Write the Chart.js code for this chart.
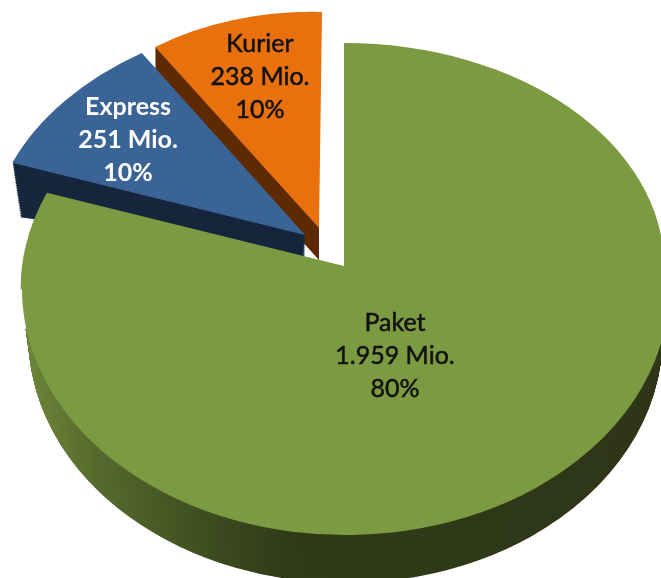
<!DOCTYPE html>
<html>
<head>
<meta charset="utf-8">
<title>Paket Express Kurier</title>
<script src="https://cdn.jsdelivr.net/npm/chart.js@4"></script>
<style>
  html, body { margin: 0; padding: 0; background: #fff; overflow: hidden; }
  canvas { display: block; }
</style>
</head>
<body>
<canvas id="pie" width="661" height="578"></canvas>
<script>
var categories = ['Paket', 'Express', 'Kurier'];
var volumes = [1959, 251, 238];   // Mio.
var shares = [80, 10, 10];        // printed percent labels

var topColors = ['#7b9a42', '#3a6496', '#e8700d'];
var sideColors = [null, '#16263d', '#5f2c05'];
var labelColors = ['#111', '#fff', '#111'];
var labelSpots = [[395, 323], [128, 107], [260, 44]];

var RADIUS = 322;

// fake 3d. a frame is the [a, b, c, d] of ctx.transform in px per unit radius, plus a shift.
// the green slice is perspective in the reference so it needs three frames, cut at cutY
var blueFrame = { m: [314.8, 4.4, -21.2, 219], dx: -39, dy: -31 };
var orangeFrame = { m: [289.8, 7.3, -3, 216], dx: -25, dy: -38 };
var greenUpLeft = { m: [322, 0, -29, 236], dx: 0, dy: 0 };
var greenUpRight = { m: [320, 0, 0, 223], dx: 0, dy: 0 };
var greenLow = { m: [323.5, 0, 0, 246], dx: 1.5, dy: 23 };
var cutY = 289;

// wall = stack of copies, moved down by depth and shrunk towards the apex
var blueWall = { depth: 22, shrinkX: 0.027, shrinkY: 0.45 };
var orangeWall = { depth: 32, shrinkX: 0, shrinkY: 0 };
var greenWall = { depth: 48, shrinkX: 0.02, shrinkY: 0 };

function paintArc(ctx, arc, color) {
	var saved = arc.options;
	arc.options = { backgroundColor: color, borderWidth: 0, borderRadius: 0, offset: 0, spacing: 0, circular: true };
	arc.draw(ctx);
	arc.options = saved;
}

function placed(ctx, arc, frame, wall, t, color) {
	var m = frame.m;
	ctx.save();
	ctx.translate(arc.x + frame.dx, arc.y + frame.dy + (wall ? wall.depth * t : 0));
	if (wall) ctx.scale(1 - wall.shrinkX * t, 1 - wall.shrinkY * t);
	ctx.transform(m[0] / RADIUS, m[1] / RADIUS, m[2] / RADIUS, m[3] / RADIUS, 0, 0);
	ctx.translate(-arc.x, -arc.y);
	paintArc(ctx, arc, color);
	ctx.restore();
}

function clipped(ctx, x, y, w, h, fn) {
	ctx.save();
	ctx.beginPath();
	ctx.rect(x, y, w, h);
	ctx.clip();
	fn();
	ctx.restore();
}

function stack(ctx, arc, frame, wall, color) {
	var steps = Math.ceil(wall.depth * 1.5), i;
	for (i = steps; i > 0; i--) placed(ctx, arc, frame, wall, i / steps, color);
}

var pie3d = {
	id: 'pie3d',
	beforeDatasetsDraw: function(chart) {
		var ctx = chart.ctx, W = chart.width, H = chart.height;
		var arcs = chart.getDatasetMeta(0).data;
		var green = arcs[0], blue = arcs[1], orange = arcs[2];

		// back slices first, green lies on top of both walls
		clipped(ctx, 0, 0, orange.x + orangeFrame.dx, H, function() {
			stack(ctx, orange, orangeFrame, orangeWall, sideColors[2]);
		});
		placed(ctx, orange, orangeFrame, null, 0, topColors[2]);

		stack(ctx, blue, blueFrame, blueWall, sideColors[1]);
		placed(ctx, blue, blueFrame, null, 0, topColors[1]);

		var shade = ctx.createLinearGradient(20, 0, 660, 0);
		shade.addColorStop(0, '#6d8738');
		shade.addColorStop(0.12, '#56692d');
		shade.addColorStop(0.3, '#3c4b1e');
		shade.addColorStop(0.42, '#303a18');
		shade.addColorStop(1, '#2e3617');
		clipped(ctx, 0, cutY + 40, W, H, function() {
			stack(ctx, green, greenLow, greenWall, shade);
		});

		clipped(ctx, 0, 0, green.x, cutY + 0.5, function() {
			placed(ctx, green, greenUpLeft, null, 0, topColors[0]);
		});
		clipped(ctx, green.x - 0.5, 0, W, cutY + 0.5, function() {
			placed(ctx, green, greenUpRight, null, 0, topColors[0]);
		});
		clipped(ctx, 0, cutY, W, H, function() {
			placed(ctx, green, greenLow, null, 0, topColors[0]);
		});

		return false;
	},
	afterDraw: function(chart) {
		var ctx = chart.ctx;
		ctx.save();
		ctx.textAlign = 'center';
		ctx.textBaseline = 'middle';
		ctx.lineWidth = 0.5;
		categories.forEach(function(name, i) {
			var lines = [name, volumes[i].toLocaleString('de-DE') + ' Mio.', shares[i] + '%'];
			ctx.font = (i === 1 ? 'bold ' : '') + '25px Lato';
			ctx.fillStyle = labelColors[i];
			ctx.strokeStyle = labelColors[i];
			lines.forEach(function(line, n) {
				ctx.fillText(line, labelSpots[i][0], labelSpots[i][1] + n * 33);
				// reference text is a bit heavier than Lato regular
				if (i !== 1) ctx.strokeText(line, labelSpots[i][0], labelSpots[i][1] + n * 33);
			});
		});
		ctx.restore();
	}
};

new Chart(document.getElementById('pie'), {
	type: 'pie',
	data: {
		labels: categories,
		datasets: [{ data: volumes, backgroundColor: topColors, borderWidth: 0 }]
	},
	options: {
		responsive: false,
		animation: false,
		radius: RADIUS,
		layout: { padding: { left: 27, bottom: 46 } },
		plugins: { legend: { display: false }, tooltip: { enabled: false } }
	},
	plugins: [pie3d]
});
</script>
</body>
</html>
